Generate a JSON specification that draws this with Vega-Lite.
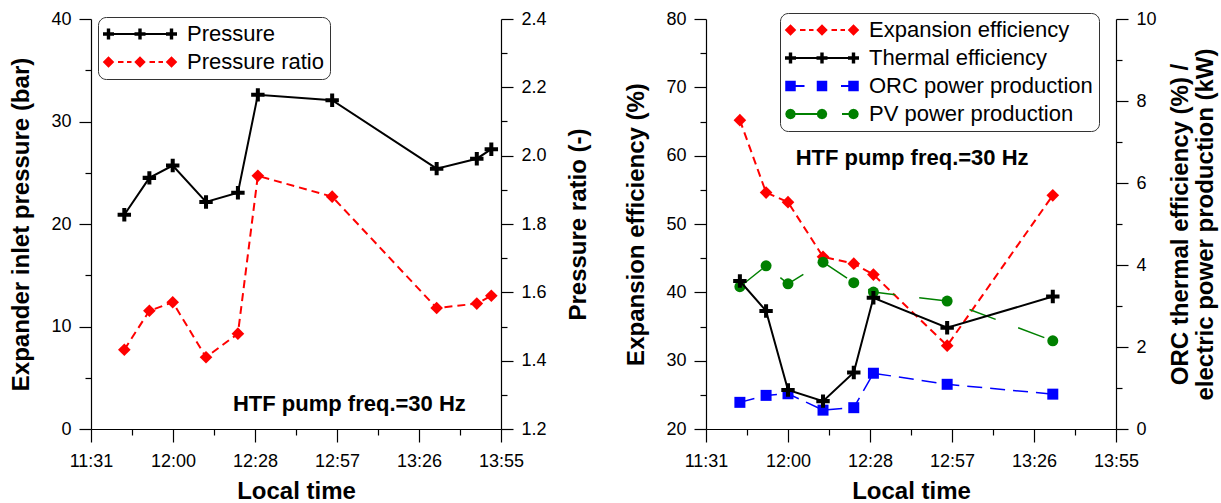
{
  "$schema": "https://vega.github.io/schema/vega-lite/v6.json",
  "background": "white",
  "padding": {"left": 9, "top": 10, "right": 5, "bottom": 0},
  "autosize": {"type": "pad"},
  "spacing": 33,
  "config": {
    "font": "Liberation Sans",
    "view": {"stroke": null},
    "axis": {"grid": false, "domainColor": "black", "domainWidth": 1.2, "tickColor": "black", "tickWidth": 1.2, "labelColor": "black", "labelFont": "Liberation Sans", "labelFontSize": 18, "titleColor": "black", "titleFont": "Liberation Sans", "titleFontSize": 24, "titleFontWeight": "bold", "labelOverlap": false},
    "legend": {"labelFont": "Liberation Sans", "labelFontSize": 22, "labelColor": "black", "labelLimit": 0, "padding": 6, "rowPadding": 6, "symbolOffset": 25, "labelOffset": 36, "cornerRadius": 8, "strokeColor": "#333333", "fillColor": "white", "symbolSize": 100}
  },
  "datasets": {
    "leftData": [
      {"series": "Pressure", "t": 702.7, "v": 20.9},
      {"series": "Pressure", "t": 711.5, "v": 24.5},
      {"series": "Pressure", "t": 719.7, "v": 25.7},
      {"series": "Pressure", "t": 731.4, "v": 22.15},
      {"series": "Pressure", "t": 742.6, "v": 23.05},
      {"series": "Pressure", "t": 749.6, "v": 32.6},
      {"series": "Pressure", "t": 775.7, "v": 32.07},
      {"series": "Pressure", "t": 812.4, "v": 25.4},
      {"series": "Pressure", "t": 826.5, "v": 26.37},
      {"series": "Pressure", "t": 831.6, "v": 27.3},
      {"series": "Pressure ratio", "t": 702.7, "v": 1.432},
      {"series": "Pressure ratio", "t": 711.5, "v": 1.546},
      {"series": "Pressure ratio", "t": 719.7, "v": 1.571},
      {"series": "Pressure ratio", "t": 731.4, "v": 1.41},
      {"series": "Pressure ratio", "t": 742.6, "v": 1.479},
      {"series": "Pressure ratio", "t": 749.6, "v": 1.941},
      {"series": "Pressure ratio", "t": 775.7, "v": 1.88},
      {"series": "Pressure ratio", "t": 812.4, "v": 1.554},
      {"series": "Pressure ratio", "t": 826.5, "v": 1.567},
      {"series": "Pressure ratio", "t": 831.6, "v": 1.59}
    ],
    "rightData": [
      {"series": "Expansion efficiency", "t": 702.9, "v": 65.2},
      {"series": "Expansion efficiency", "t": 712.1, "v": 54.6},
      {"series": "Expansion efficiency", "t": 719.8, "v": 53.2},
      {"series": "Expansion efficiency", "t": 732.1, "v": 45.2},
      {"series": "Expansion efficiency", "t": 742.9, "v": 44.2},
      {"series": "Expansion efficiency", "t": 749.8, "v": 42.6},
      {"series": "Expansion efficiency", "t": 775.7, "v": 32.2},
      {"series": "Expansion efficiency", "t": 812.8, "v": 54.2},
      {"series": "Thermal efficiency", "t": 702.9, "v": 3.61},
      {"series": "Thermal efficiency", "t": 712.1, "v": 2.88},
      {"series": "Thermal efficiency", "t": 719.8, "v": 0.95},
      {"series": "Thermal efficiency", "t": 732.1, "v": 0.68},
      {"series": "Thermal efficiency", "t": 742.9, "v": 1.38},
      {"series": "Thermal efficiency", "t": 749.8, "v": 3.2},
      {"series": "Thermal efficiency", "t": 775.7, "v": 2.47},
      {"series": "Thermal efficiency", "t": 812.8, "v": 3.23},
      {"series": "ORC power production", "t": 702.9, "v": 0.65},
      {"series": "ORC power production", "t": 712.1, "v": 0.82},
      {"series": "ORC power production", "t": 719.8, "v": 0.86},
      {"series": "ORC power production", "t": 732.1, "v": 0.46},
      {"series": "ORC power production", "t": 742.9, "v": 0.52},
      {"series": "ORC power production", "t": 749.8, "v": 1.36},
      {"series": "ORC power production", "t": 775.7, "v": 1.09},
      {"series": "ORC power production", "t": 812.8, "v": 0.85},
      {"series": "PV power production", "t": 702.9, "v": 3.47},
      {"series": "PV power production", "t": 712.1, "v": 3.98},
      {"series": "PV power production", "t": 719.8, "v": 3.54},
      {"series": "PV power production", "t": 732.1, "v": 4.07},
      {"series": "PV power production", "t": 742.9, "v": 3.57},
      {"series": "PV power production", "t": 749.8, "v": 3.34},
      {"series": "PV power production", "t": 775.7, "v": 3.12},
      {"series": "PV power production", "t": 812.8, "v": 2.15}
    ]
  },
  "hconcat": [
    {
      "width": 410,
      "height": 410,
      "data": {"name": "leftData"},
      "encoding": {
        "x": {"field": "t", "type": "quantitative", "scale": {"domain": [691, 835], "nice": false, "zero": false},
          "axis": {"title": "Local time", "values": [691, 705.4, 719.8, 734.2, 748.6, 763, 777.4, 791.8, 806.2, 820.6, 835],
            "labelExpr": "abs((datum.value-691)/28.8-round((datum.value-691)/28.8))<0.01 ? ['11:31','12:00','12:28','12:57','13:26','13:55'][round((datum.value-691)/28.8)] : ''",
            "tickSize": {"condition": {"test": "abs((datum.value-691)/28.8-round((datum.value-691)/28.8))>0.01", "value": 6}, "value": 13},
            "labelFlush": false, "labelPadding": 10, "titlePadding": 9}}
      },
      "layer": [
        {
          "encoding": {"y": {"field": "v", "type": "quantitative", "scale": {"domain": [0, 40], "nice": false, "zero": false},
            "axis": {"title": "Expander inlet pressure (bar)", "orient": "left", "values": [0, 5, 10, 15, 20, 25, 30, 35, 40],
              "labelExpr": "datum.value % 10 === 0 ? datum.label : ''",
              "tickSize": {"condition": {"test": "datum.value % 10 !== 0", "value": 6}, "value": 12},
              "labelPadding": 8, "titlePadding": 17}}},
          "layer": [
            {"transform": [{"filter": "datum.series === 'Pressure'"}],
              "mark": {"type": "line", "strokeWidth": 2},
              "encoding": {"color": {"field": "series", "type": "nominal", "scale": {"domain": ["Pressure", "Pressure ratio"], "range": ["black", "#ff0000"]},
                "legend": {"title": null, "orient": "none", "legendX": 7, "legendY": -2,
                  "encode": {"symbols": {"update": {
                    "shape": {"signal": "datum.value === 'Pressure' ? 'M-6.3,-0.2H6.3V0.2H-6.3Z M-7.4,-0.34H-5.2V0.34H-7.4Z M-6.64,-1.1H-5.96V1.1H-6.64Z M-1.1,-0.34H1.1V0.34H-1.1Z M-0.34,-1.1H0.34V1.1H-0.34Z M5.2,-0.34H7.4V0.34H5.2Z M5.96,-1.1H6.64V1.1H5.96Z' : 'M-7.45,0L-6.3,-1.15L-5.15,0L-6.3,1.15Z M-1.15,0L0,-1.15L1.15,0L0,1.15Z M5.15,0L6.3,-1.15L7.45,0L6.3,1.15Z M-4.4,-0.2H-3.3V0.2H-4.4Z M-2.6,-0.2H-1.7V0.2H-2.6Z M1.9,-0.2H3V0.2H1.9Z M3.7,-0.2H4.6V0.2H3.7Z'"},
                    "fill": {"signal": "datum.value === 'Pressure' ? 'black' : '#ff0000'"},
                    "stroke": {"value": "transparent"},
                    "strokeWidth": {"value": 0},
                    "strokeDash": {"value": [1, 0]},
                    "size": {"value": 100},
                    "opacity": {"value": 1}
                  }}}}}}},
            {"transform": [{"filter": "datum.series === 'Pressure'"}],
              "mark": {"type": "point", "filled": true, "opacity": 1, "size": 180, "shape": "M-1,-0.3H1V0.3H-1Z M-0.3,-1H0.3V1H-0.3Z"},
              "encoding": {"color": {"field": "series", "type": "nominal", "scale": {"domain": ["Pressure", "Pressure ratio"], "range": ["black", "#ff0000"]}, "legend": null}}},
            {"data": {"values": [{"label": "HTF pump freq.=30 Hz", "t": 781.75, "v": 1.79}]},
              "mark": {"type": "text", "font": "Liberation Sans", "fontSize": 22, "fontWeight": "bold", "align": "center", "baseline": "alphabetic", "color": "black"},
              "encoding": {"text": {"field": "label"}}}
          ]
        },
        {
          "encoding": {"y": {"field": "v", "type": "quantitative", "scale": {"domain": [1.2, 2.4], "nice": false, "zero": false},
            "axis": {"title": "Pressure ratio (-)", "orient": "right", "values": [1.2, 1.3, 1.4, 1.5, 1.6, 1.7, 1.8, 1.9, 2.0, 2.1, 2.2, 2.3, 2.4],
              "labelExpr": "round(datum.value*10) % 2 === 0 ? format(datum.value, '.1f') : ''",
              "tickSize": {"condition": {"test": "round(datum.value*10) % 2 !== 0", "value": 6}, "value": 12},
              "labelPadding": 8, "titlePadding": 20, "titleAngle": 270, "titleBaseline": "top"}}},
          "layer": [
            {"transform": [{"filter": "datum.series === 'Pressure ratio'"}],
              "mark": {"type": "line", "strokeWidth": 2, "strokeDash": [8, 5]},
              "encoding": {"color": {"field": "series", "type": "nominal", "scale": {"domain": ["Pressure", "Pressure ratio"], "range": ["black", "#ff0000"]}, "legend": null}}},
            {"transform": [{"filter": "datum.series === 'Pressure ratio'"}],
              "mark": {"type": "point", "filled": true, "opacity": 1, "size": 160, "shape": "diamond"},
              "encoding": {"color": {"field": "series", "type": "nominal", "scale": {"domain": ["Pressure", "Pressure ratio"], "range": ["black", "#ff0000"]}, "legend": null}}}
          ]
        }
      ],
      "resolve": {"scale": {"y": "independent"}}
    },
    {
      "width": 410,
      "height": 410,
      "data": {"name": "rightData"},
      "encoding": {
        "x": {"field": "t", "type": "quantitative", "scale": {"domain": [691, 835], "nice": false, "zero": false},
          "axis": {"title": "Local time", "values": [691, 705.4, 719.8, 734.2, 748.6, 763, 777.4, 791.8, 806.2, 820.6, 835],
            "labelExpr": "abs((datum.value-691)/28.8-round((datum.value-691)/28.8))<0.01 ? ['11:31','12:00','12:28','12:57','13:26','13:55'][round((datum.value-691)/28.8)] : ''",
            "tickSize": {"condition": {"test": "abs((datum.value-691)/28.8-round((datum.value-691)/28.8))>0.01", "value": 6}, "value": 13},
            "labelFlush": false, "labelPadding": 10, "titlePadding": 9}}
      },
      "layer": [
        {
          "encoding": {"y": {"field": "v", "type": "quantitative", "scale": {"domain": [20, 80], "nice": false, "zero": false},
            "axis": {"title": "Expansion efficiency (%)", "orient": "left", "values": [20, 25, 30, 35, 40, 45, 50, 55, 60, 65, 70, 75, 80],
              "labelExpr": "datum.value % 10 === 0 ? datum.label : ''",
              "tickSize": {"condition": {"test": "datum.value % 10 !== 0", "value": 6}, "value": 12},
              "labelPadding": 8, "titlePadding": 17}}},
          "layer": [
            {"transform": [{"filter": "datum.series === 'Expansion efficiency'"}],
              "mark": {"type": "line", "strokeWidth": 2, "strokeDash": [8, 5]},
              "encoding": {"color": {"field": "series", "type": "nominal", "scale": {"domain": ["Expansion efficiency", "Thermal efficiency", "ORC power production", "PV power production"], "range": ["#ff0000", "black", "#0000ff", "#008000"]},
                "legend": {"title": null, "orient": "none", "legendX": 74, "legendY": -6,
                  "encode": {"symbols": {"update": {
                    "shape": {"signal": "datum.value === 'Expansion efficiency' ? 'M-7.45,0L-6.3,-1.15L-5.15,0L-6.3,1.15Z M-1.15,0L0,-1.15L1.15,0L0,1.15Z M5.15,0L6.3,-1.15L7.45,0L6.3,1.15Z M-4.4,-0.2H-3.3V0.2H-4.4Z M-2.6,-0.2H-1.7V0.2H-2.6Z M1.9,-0.2H3V0.2H1.9Z M3.7,-0.2H4.6V0.2H3.7Z' : datum.value === 'Thermal efficiency' ? 'M-6.3,-0.2H6.3V0.2H-6.3Z M-7.4,-0.34H-5.2V0.34H-7.4Z M-6.64,-1.1H-5.96V1.1H-6.64Z M-1.1,-0.34H1.1V0.34H-1.1Z M-0.34,-1.1H0.34V1.1H-0.34Z M5.2,-0.34H7.4V0.34H5.2Z M5.96,-1.1H6.64V1.1H5.96Z' : datum.value === 'ORC power production' ? 'M-7.35,-1.05H-5.25V1.05H-7.35Z M-1.05,-1.05H1.05V1.05H-1.05Z M5.25,-1.05H7.35V1.05H5.25Z M-5.25,-0.2H-3.5V0.2H-5.25Z M3.8,-0.2H5.25V0.2H3.8Z' : 'M-6.3,-0.18H0V0.18H-6.3Z M4,-0.18H5.3V0.18H4Z M-5.25,0L-5.391,0.525L-5.775,0.909L-6.3,1.05L-6.825,0.909L-7.209,0.525L-7.35,0L-7.209,-0.525L-6.825,-0.909L-6.3,-1.05L-5.775,-0.909L-5.391,-0.525Z M1.05,0L0.909,0.525L0.525,0.909L0,1.05L-0.525,0.909L-0.909,0.525L-1.05,0L-0.909,-0.525L-0.525,-0.909L0,-1.05L0.525,-0.909L0.909,-0.525Z M7.35,0L7.209,0.525L6.825,0.909L6.3,1.05L5.775,0.909L5.391,0.525L5.25,0L5.391,-0.525L5.775,-0.909L6.3,-1.05L6.825,-0.909L7.209,-0.525Z'"},
                    "fill": {"signal": "datum.value === 'Expansion efficiency' ? '#ff0000' : datum.value === 'Thermal efficiency' ? 'black' : datum.value === 'ORC power production' ? '#0000ff' : '#008000'"},
                    "stroke": {"value": "transparent"},
                    "strokeWidth": {"value": 0},
                    "strokeDash": {"value": [1, 0]},
                    "size": {"value": 100},
                    "opacity": {"value": 1}
                  }}}}}}},
            {"transform": [{"filter": "datum.series === 'Expansion efficiency'"}],
              "mark": {"type": "point", "filled": true, "opacity": 1, "size": 160, "shape": "diamond"},
              "encoding": {"color": {"field": "series", "type": "nominal", "scale": {"domain": ["Expansion efficiency", "Thermal efficiency", "ORC power production", "PV power production"], "range": ["#ff0000", "black", "#0000ff", "#008000"]}, "legend": null}}},
            {"data": {"values": [{"label": "HTF pump freq.=30 Hz", "t": 763.4, "v": 58.6}]},
              "mark": {"type": "text", "font": "Liberation Sans", "fontSize": 22, "fontWeight": "bold", "align": "center", "baseline": "alphabetic", "color": "black"},
              "encoding": {"text": {"field": "label"}}}
          ]
        },
        {
          "encoding": {"y": {"field": "v", "type": "quantitative", "scale": {"domain": [0, 10], "nice": false, "zero": false},
            "axis": {"title": ["ORC thermal efficiency (%) /", "electric power production (kW)"], "orient": "right", "values": [0, 1, 2, 3, 4, 5, 6, 7, 8, 9, 10],
              "labelExpr": "datum.value % 2 === 0 ? datum.label : ''",
              "tickSize": {"condition": {"test": "datum.value % 2 !== 0", "value": 6}, "value": 12},
              "labelPadding": 8, "titlePadding": -13, "titleAngle": 270, "titleBaseline": "top", "titleLineHeight": 25}}},
          "layer": [
            {"transform": [{"filter": "datum.series === 'PV power production'"}],
              "mark": {"type": "line", "strokeWidth": 1.5, "strokeDash": [28, 24]},
              "encoding": {"color": {"field": "series", "type": "nominal", "scale": {"domain": ["Expansion efficiency", "Thermal efficiency", "ORC power production", "PV power production"], "range": ["#ff0000", "black", "#0000ff", "#008000"]}, "legend": null}}},
            {"transform": [{"filter": "datum.series === 'PV power production'"}],
              "mark": {"type": "point", "filled": true, "opacity": 1, "size": 121, "shape": "circle"},
              "encoding": {"color": {"field": "series", "type": "nominal", "scale": {"domain": ["Expansion efficiency", "Thermal efficiency", "ORC power production", "PV power production"], "range": ["#ff0000", "black", "#0000ff", "#008000"]}, "legend": null}}},
            {"transform": [{"filter": "datum.series === 'ORC power production'"}],
              "mark": {"type": "line", "strokeWidth": 1.5, "strokeDash": [15, 8]},
              "encoding": {"color": {"field": "series", "type": "nominal", "scale": {"domain": ["Expansion efficiency", "Thermal efficiency", "ORC power production", "PV power production"], "range": ["#ff0000", "black", "#0000ff", "#008000"]}, "legend": null}}},
            {"transform": [{"filter": "datum.series === 'ORC power production'"}],
              "mark": {"type": "point", "filled": true, "opacity": 1, "size": 121, "shape": "square"},
              "encoding": {"color": {"field": "series", "type": "nominal", "scale": {"domain": ["Expansion efficiency", "Thermal efficiency", "ORC power production", "PV power production"], "range": ["#ff0000", "black", "#0000ff", "#008000"]}, "legend": null}}},
            {"transform": [{"filter": "datum.series === 'Thermal efficiency'"}],
              "mark": {"type": "line", "strokeWidth": 2},
              "encoding": {"color": {"field": "series", "type": "nominal", "scale": {"domain": ["Expansion efficiency", "Thermal efficiency", "ORC power production", "PV power production"], "range": ["#ff0000", "black", "#0000ff", "#008000"]}, "legend": null}}},
            {"transform": [{"filter": "datum.series === 'Thermal efficiency'"}],
              "mark": {"type": "point", "filled": true, "opacity": 1, "size": 180, "shape": "M-1,-0.3H1V0.3H-1Z M-0.3,-1H0.3V1H-0.3Z"},
              "encoding": {"color": {"field": "series", "type": "nominal", "scale": {"domain": ["Expansion efficiency", "Thermal efficiency", "ORC power production", "PV power production"], "range": ["#ff0000", "black", "#0000ff", "#008000"]}, "legend": null}}}
          ]
        }
      ],
      "resolve": {"scale": {"y": "independent"}}
    }
  ],
  "resolve": {"scale": {"color": "independent"}, "legend": {"color": "independent"}}
}
